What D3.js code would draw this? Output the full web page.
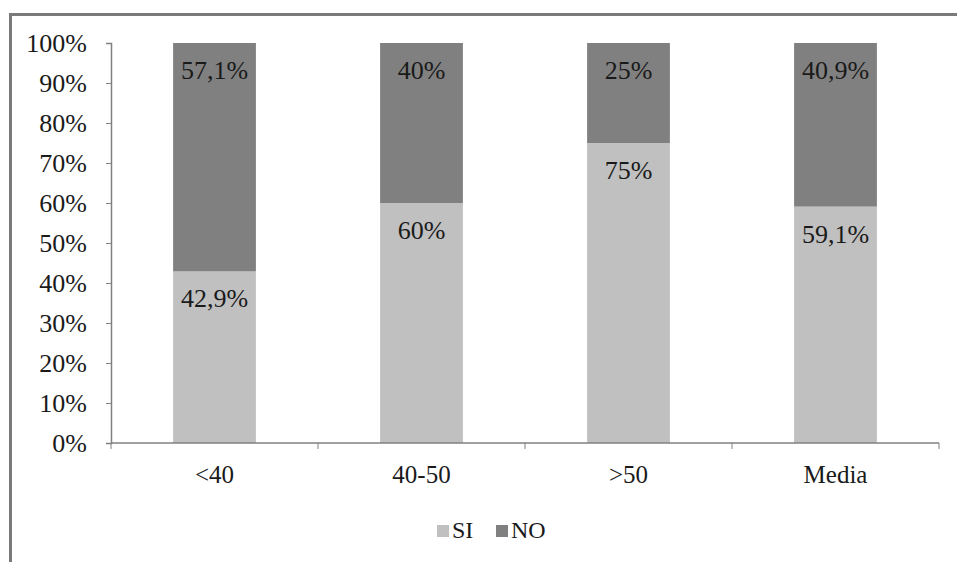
<!DOCTYPE html>
<html>
<head>
<meta charset="utf-8">
<script src="https://cdn.jsdelivr.net/npm/d3@7"></script>
<style>
  html, body { margin: 0; padding: 0; background: #fff; }
  svg { display: block; }
  text { font-family: "Liberation Serif", "DejaVu Serif", serif; fill: #1a1a1a; }
</style>
</head>
<body>
<svg id="chart" width="957" height="562"></svg>
<script>
// Age groups and the share answering SI / NO in each (percent)
const categories = ["<40", "40-50", ">50", "Media"];
const siValues = [42.9, 60, 75, 59.1];
const noValues = [57.1, 40, 25, 40.9];
const siLabels = ["42,9%", "60%", "75%", "59,1%"];
const noLabels = ["57,1%", "40%", "25%", "40,9%"];
const yTicks = [0, 10, 20, 30, 40, 50, 60, 70, 80, 90, 100];
const seriesNames = ["SI", "NO"];

const colors = { SI: "#c0c0c0", NO: "#808080" };

const svg = d3.select("#chart");

// Outer frame
svg.append("path")
  .attr("d", "M10.5,562 V14.5 H957")
  .attr("fill", "none")
  .attr("stroke", "#7a7a7a")
  .attr("stroke-width", 3);

const plot = { left: 111, right: 939, top: 43, bottom: 443 };

const x = d3.scaleBand()
  .domain(categories)
  .range([plot.left, plot.right])
  .paddingInner(0.6)
  .paddingOuter(0.3);

const y = d3.scaleLinear()
  .domain([0, 100])
  .range([plot.bottom, plot.top]);

const rows = categories.map((c, i) => ({ cat: c, SI: siValues[i], NO: noValues[i] }));
const stacked = d3.stack().keys(seriesNames)(rows);

// Bars
stacked.forEach(layer => {
  svg.append("g")
    .selectAll("rect")
    .data(layer)
    .join("rect")
    .attr("x", d => x(d.data.cat))
    .attr("y", d => y(d[1]))
    .attr("width", x.bandwidth())
    .attr("height", d => y(d[0]) - y(d[1]))
    .attr("fill", colors[layer.key]);
});

// Value labels near the top of each segment
const labels = { SI: siLabels, NO: noLabels };
stacked.forEach(layer => {
  svg.append("g")
    .selectAll("text")
    .data(layer)
    .join("text")
    .attr("x", d => x(d.data.cat) + x.bandwidth() / 2)
    .attr("y", d => y(d[1]) + 36)
    .attr("text-anchor", "middle")
    .attr("font-size", 26)
    .text((d, i) => labels[layer.key][i]);
});

// Y axis
const yAxis = svg.append("g")
  .attr("transform", `translate(${plot.left},0)`)
  .call(d3.axisLeft(y).tickValues(yTicks).tickFormat(d => d + "%").tickSize(5).tickPadding(19));
yAxis.select(".domain").attr("stroke", "#808080").attr("stroke-width", 1.5);
yAxis.selectAll(".tick line").attr("stroke", "#808080");
yAxis.selectAll(".tick text").attr("font-size", 26).attr("fill", "#1a1a1a")
  .attr("font-family", "Liberation Serif, serif");

// X axis with ticks at band boundaries
const xAxisG = svg.append("g").attr("transform", `translate(0,${plot.bottom})`);
xAxisG.append("line")
  .attr("x1", plot.left).attr("x2", plot.right)
  .attr("stroke", "#808080").attr("stroke-width", 1.5);
const boundaries = d3.range(categories.length + 1).map(i => plot.left + (plot.right - plot.left) * i / categories.length);
xAxisG.selectAll(".xtick")
  .data(boundaries)
  .join("line")
  .attr("x1", d => d).attr("x2", d => d)
  .attr("y1", 0).attr("y2", 6)
  .attr("stroke", "#808080");
xAxisG.selectAll(".xlabel")
  .data(categories)
  .join("text")
  .attr("x", d => x(d) + x.bandwidth() / 2)
  .attr("y", 40)
  .attr("text-anchor", "middle")
  .attr("font-size", 25)
  .text(d => d);

// Legend
const legend = svg.append("g").attr("transform", "translate(437,538)");
const legendX = [0, 59];
seriesNames.forEach((name, i) => {
  const g = legend.append("g").attr("transform", `translate(${legendX[i]},0)`);
  g.append("rect")
    .attr("x", 0).attr("y", -13)
    .attr("width", 12).attr("height", 12)
    .attr("fill", colors[name]);
  g.append("text")
    .attr("x", 15).attr("y", 0)
    .attr("font-size", 24)
    .text(name);
});
</script>
</body>
</html>
